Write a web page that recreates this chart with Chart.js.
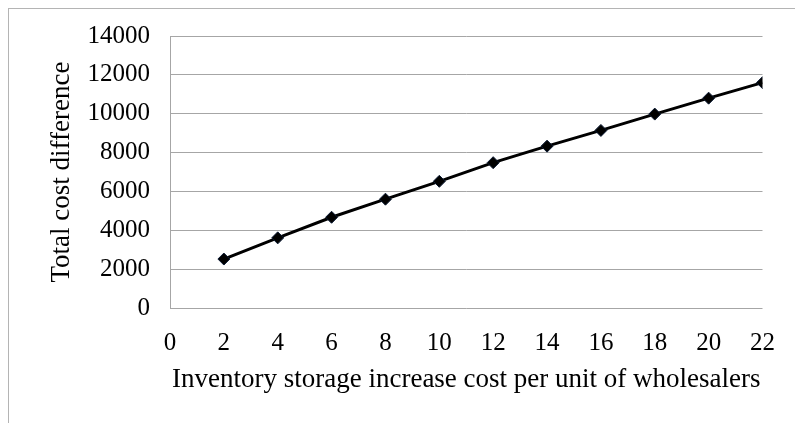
<!DOCTYPE html>
<html>
<head>
<meta charset="utf-8">
<script src="https://cdn.jsdelivr.net/npm/chart.js@4/dist/chart.umd.min.js"></script>
<style>
  html, body { margin: 0; padding: 0; background: #fff; }
  #wrap { position: relative; width: 795px; height: 423px; overflow: hidden; }
  #frame { position: absolute; left: 8px; top: 8px; width: 800px; height: 430px;
           border-left: 1px solid #b4b4b4; border-top: 1px solid #b4b4b4; }
  canvas { position: absolute; left: 0; top: 0; }
</style>
</head>
<body>
<div id="wrap">
  <div id="frame"></div>
  <canvas id="cost-chart" width="795" height="423"></canvas>
</div>
<script>
// storage cost per unit (x) and total cost difference (y)
const storage_cost = [2, 4, 6, 8, 10, 12, 14, 16, 18, 20, 22]
const cost_difference = [2520, 3610, 4670, 5600, 6520, 7480, 8330, 9140, 9980, 10800, 11600]

let points = []
for (let i = 0; i < storage_cost.length; i++) {
  points.push({ x: storage_cost[i], y: cost_difference[i] })
}

const serif = "'Liberation Serif', 'Times New Roman', serif"
const gridcolor = "#a6a6a6"

new Chart(document.getElementById("cost-chart"), {
  type: 'line',
  data: {
    datasets: [{
      data: points,
      borderColor: "#000",
      borderWidth: 3,
      backgroundColor: "#000",
      pointStyle: 'rectRot',
      pointRadius: 6,
      pointBorderColor: "#0b1a33",
      pointBorderWidth: 1,
      fill: false,
      tension: 0
    }]
  },
  options: {
    responsive: false,
    animation: false,
    layout: { padding: { left: 0, right: 28, top: 36, bottom: 27 } },
    plugins: { legend: { display: false }, tooltip: { enabled: false } },
    scales: {
      x: {
        type: 'linear',
        min: 0,
        max: 22,
        afterFit: function (scale) { scale.height = 88 },
        grid: { display: false, drawTicks: false },
        border: { display: false },
        ticks: { stepSize: 2, padding: 20, color: "#000", font: { family: serif, size: 25 } },
        title: {
          display: true,
          text: "Inventory storage increase cost per unit of wholesalers",
          color: "#000",
          padding: { top: 0, bottom: 0 },
          font: { family: serif, size: 27 }
        }
      },
      y: {
        min: 0,
        max: 14000,
        afterFit: function (scale) { scale.width = 170 },
        grid: { color: gridcolor, lineWidth: 1, drawTicks: false },
        border: { display: true, color: gridcolor, width: 1 },
        ticks: {
          stepSize: 2000, padding: 20, color: "#000", font: { family: serif, size: 25 },
          callback: function (value) { return String(value) }
        },
        title: {
          display: true,
          text: "Total cost difference",
          color: "#000",
          padding: { top: 46, bottom: 0 },
          font: { family: serif, size: 27 }
        }
      }
    }
  }
});
</script>
</body>
</html>
